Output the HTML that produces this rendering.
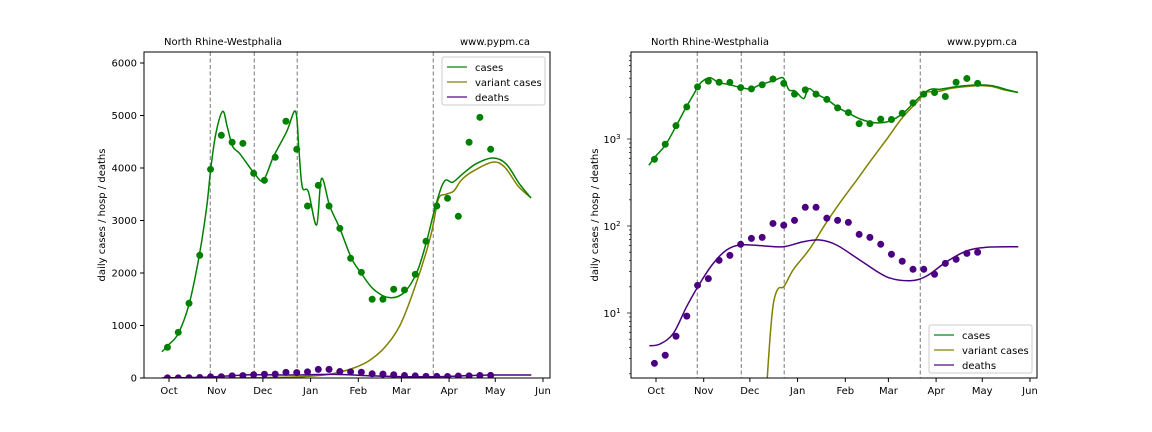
<!DOCTYPE html>
<html><head><meta charset="utf-8">
<style>
body{margin:0;background:#fff;}
svg{display:block;font-family:"DejaVu Sans","Liberation Sans",sans-serif;}
</style></head>
<body>
<svg id="chart" width="1152" height="432" viewBox="0 0 1152 432" xmlns="http://www.w3.org/2000/svg">
<rect width="1152" height="432" fill="#fff"/>
</svg>
<script>
// ---- data (day index: 0 = Oct 1) ----
const monthLabels = ["Oct","Nov","Dec","Jan","Feb","Mar","Apr","May","Jun"];
const monthDays = [0,31,61,92,123,151,182,212,243];
const eventDays = [26.8,55.4,83.3,171.7];
const dotDays = [-1,6,13,20,27,34,41,48,55,62,69,76,83,90,97,104,111,118,125,132,139,146,153,160,167,174,181,188,195,202,209];
const caseDots = [585,870,1423,2337,3975,4623,4490,4470,3899,3765,4204,4890,4356,3276,3670,3276,2851,2280,2013,1500,1500,1690,1677,1975,2604,3276,3423,3080,4490,4965,4356];
const deathDots = [2.64,3.27,5.4,9.2,20.8,24.8,40.3,46,61.6,72,74,107,102,116,164,164,123,116,110,80,74,61.6,47.3,39.3,31.8,31.8,27.9,37.2,41.4,48.5,49.9];
const caseModelDays = [-4.6,0,6.1,13.2,19.7,24.5,27.1,30.5,34.9,37.9,41.4,46.1,55.4,61.3,67.8,76.4,82.2,84.4,86.6,90.5,95.9,99.1,104.5,111,118.6,125,132.6,142.3,152,160.7,167,173.6,179,184.4,190.9,199.5,210.4,219,227.7,235.2];
const caseModel = [500,640,851,1423,2337,3260,3975,4660,5080,4780,4410,4270,3900,3765,4210,4690,5080,4350,3640,3550,2914,3800,3270,2851,2280,1990,1700,1535,1610,1990,2560,3320,3750,3730,3890,4080,4190,4080,3700,3430];
const variantModelDays = [72,74,76,78,80,83,87,90,100,110,120,130,140,150,160,170,175,180,185,190,197,210,218,227,235.2];
const variantModel = [1.5,5,12,17,19.5,20,27,33,55,105,190,330,580,1000,1750,2700,3400,3500,3560,3770,3930,4110,4020,3650,3430];
const deathModelDays = [-4.3,2.6,11.3,19.9,28.5,37.2,45.9,54.5,67.5,82.7,95.7,106.5,117.3,132.5,149.8,165,175.8,188.8,201.8,214.8,235.4];
const deathModel = [4.2,4.4,5.85,11.8,21.9,37.2,53,60.5,59.6,57.8,66,69,60.5,40.6,26.1,23.5,26.6,38.9,51.6,57,57.8];
const linTicks = [0,1000,2000,3000,4000,5000,6000];
const logTicks = [10,100,1000];
const logTickLabels = ["1","2","3"];

const NS="http://www.w3.org/2000/svg";
const svg=document.getElementById('chart');
function mk(tag,attrs,parent){const e=document.createElementNS(NS,tag);for(const k in attrs)e.setAttribute(k,attrs[k]);(parent||svg).appendChild(e);return e;}

const GREEN="#008000",OLIVE="#808000",INDIGO="#4b0082";
const FS=10;

function smoothPath(P){
  let d='M'+P[0][0].toFixed(1)+','+P[0][1].toFixed(1);
  for(let i=0;i<P.length-1;i++){
    const p0=P[Math.max(i-1,0)],p1=P[i],p2=P[i+1],p3=P[Math.min(i+2,P.length-1)];
    const k=1/6;
    const c1=[p1[0]+(p2[0]-p0[0])*k,p1[1]+(p2[1]-p0[1])*k];
    const c2=[p2[0]-(p3[0]-p1[0])*k,p2[1]-(p3[1]-p1[1])*k];
    d+=' C'+c1[0].toFixed(1)+','+c1[1].toFixed(1)+' '+c2[0].toFixed(1)+','+c2[1].toFixed(1)+' '+p2[0].toFixed(1)+','+p2[1].toFixed(1);
  }
  return d;
}

function panel(opt){
  const g=mk('g',{});
  
  
  const L=opt.left,R=opt.right,T=52,B=378;
  const xs=d=>opt.x0+d*1.539;
  let ys;
  if(opt.log){const lmin=Math.log10(1.79),lmax=4;ys=v=>B-(Math.log10(Math.max(v,1e-3))-lmin)/(lmax-lmin)*(B-T);}
  else{ys=v=>B-v/6000*315;}
  const clipId='clip'+opt.name;
  const cp=mk('clipPath',{id:clipId},g);mk('rect',{x:L,y:T,width:R-L,height:B-T},cp);
  const plot=mk('g',{'clip-path':'url(#'+clipId+')'},g);
  eventDays.forEach(d=>{const l=mk('line',{x1:xs(d),x2:xs(d),y1:T,y2:B,stroke:'#777','stroke-width':1,'stroke-dasharray':'4,2.5'},plot);
    });
  function line(days,vals,color,name,pre){let P=days.map((d,i)=>[xs(d),ys(vals[i])]);
    if(pre && !opt.log){P=[[xs(-4),ys(0)],[xs(40),ys(0)]].concat(P.slice(3));}
    const p=mk('path',{d:smoothPath(P),fill:'none',stroke:color,'stroke-width':1.5,'stroke-linejoin':'round'},plot);
    }
  function dots(days,vals,color,name){days.forEach((d,i)=>{const c=mk('circle',{cx:xs(d),cy:ys(vals[i]),r:3.5,fill:color},plot);
    });}
  line(variantModelDays,variantModel,OLIVE,'variant-cases-line',true);
  line(caseModelDays,caseModel,GREEN,'cases-line');
  line(deathModelDays,deathModel,INDIGO,'deaths-line');
  dots(dotDays,caseDots,GREEN,'case-dot');
  dots(dotDays,deathDots,INDIGO,'death-dot');
  const fr=mk('rect',{x:L,y:T,width:R-L,height:B-T,fill:'none',stroke:'#000','stroke-width':1},g);
  
  monthDays.forEach((d,i)=>{const x=xs(d);mk('line',{x1:x,x2:x,y1:B,y2:B+4,stroke:'#000'},g);
    const t=mk('text',{x:x,y:B+16,'font-size':FS,'text-anchor':'middle',fill:'#000'},g);t.textContent=monthLabels[i];
    });
  if(opt.log){
    for(let e=0;e<4;e++)for(let m=1;m<10;m++){const v=m*Math.pow(10,e);const y=ys(v);if(y<T||y>B)continue;
      mk('line',{x1:L-(m==1?4:2),x2:L,y1:y,y2:y,stroke:'#000','stroke-width':0.7},g);}
    logTicks.forEach((v,i)=>{const y=ys(v);const t=mk('text',{x:L-19,y:y+4,'font-size':FS,'text-anchor':'middle',fill:'#000'},g);
      t.textContent='10';const s=mk('tspan',{dy:-4,'font-size':7},t);s.textContent=logTickLabels[i];
      });
  } else {
    linTicks.forEach(v=>{const y=ys(v);mk('line',{x1:L-4,x2:L,y1:y,y2:y,stroke:'#000'},g);
      const t=mk('text',{x:L-7,y:y+3.5,'font-size':FS,'text-anchor':'end',fill:'#000'},g);t.textContent=v;
      });
  }
  const yl=mk('text',{x:0,y:0,'font-size':FS,'text-anchor':'middle',transform:`translate(${opt.ylabelX},215) rotate(-90)`,fill:'#000'},g);
  yl.textContent='daily cases / hosp / deaths';
  const t1=mk('text',{x:L+20,y:45,'font-size':FS,fill:'#000'},g);t1.textContent='North Rhine-Westphalia';
  
  const t2=mk('text',{x:L+316,y:45,'font-size':FS,fill:'#000'},g);t2.textContent='www.pypm.ca';
  
  const lg=mk('g',{},g);
  mk('rect',{x:opt.legX,y:opt.legY,width:103,height:48,rx:2,fill:'#fff','fill-opacity':0.85,stroke:'#ccc'},lg);
  [['cases',GREEN],['variant cases',OLIVE],['deaths',INDIGO]].forEach((it,i)=>{const y=opt.legY+10+i*15;
    mk('line',{x1:opt.legX+5,x2:opt.legX+25,y1:y,y2:y,stroke:it[1],'stroke-width':1.5,opacity:0.8},lg);
    const t=mk('text',{x:opt.legX+33,y:y+4,'font-size':FS,fill:'#000'},lg);t.textContent=it[0];
    });
}
panel({name:'linear-panel',left:144,right:550,x0:169,log:false,ylabelX:105,legX:442,legY:57});
panel({name:'log-panel',left:631,right:1037,x0:656,log:true,ylabelX:598,legX:929,legY:325});
</script>
</body></html>
